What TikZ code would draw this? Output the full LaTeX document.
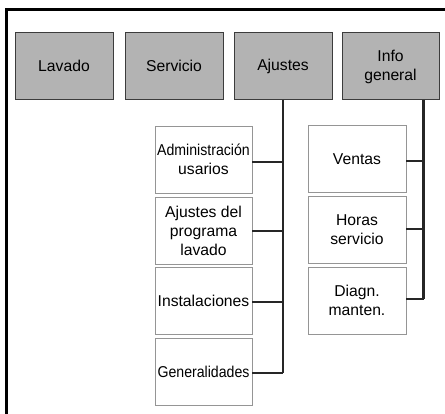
\documentclass[tikz,border=0pt]{standalone}
\usepackage{fontspec}
\setmainfont{Liberation Sans}
\usepackage{graphicx}
\definecolor{topfill}{HTML}{B3B3B3}
\definecolor{topdraw}{HTML}{3C3C3C}
\definecolor{subdraw}{HTML}{959595}
\begin{document}
\begin{tikzpicture}[x=1pt,y=-1pt,
  topbox/.style={draw=topdraw,fill=topfill,line width=1pt,minimum width=98pt,minimum height=67pt,inner sep=0pt,align=center,font=\fontsize{15.7}{19}\selectfont},
  subbox/.style={draw=subdraw,fill=white,line width=0.8pt,minimum width=97pt,minimum height=67pt,inner sep=0pt,align=center,font=\fontsize{15.7}{19}\selectfont},
  conn/.style={line width=2.3pt,black!85},
  frame/.style={line width=3pt,black}]
\useasboundingbox (0,0) rectangle (445,414);
% outer frame
\coordinate (fbl) at (6.2,414);
\coordinate (ftl) at (6.2,9.8);
\coordinate (ftr) at (445,9.8);
\draw[frame] (fbl) -- (ftl) -- (ftr);
% top row
\node[topbox] (lav) at (64,66) {Lavado};
\node[topbox] (serv) at (174,66) {Servicio};
\node[topbox] (aj) at (283,66) {Ajustes};
\node[topbox,minimum width=97pt] (info) at (390.5,66.5) {Info\\general};
% Ajustes children
\node[subbox] (adm) at (203.5,159.5) {\scalebox{0.9}[1]{Administración}\\usarios};
\node[subbox] (prog) at (203.5,230.5) {Ajustes del\\programa\\lavado};
\node[subbox] (inst) at (203.5,301) {Instalaciones};
\node[subbox] (gen) at (203.5,372) {\scalebox{0.9}[1]{Generalidades}};
% Info children
\node[subbox,minimum width=98pt] (vent) at (357,159) {Ventas};
\node[subbox,minimum width=98pt] (hor) at (357,229.5) {Horas\\servicio};
\node[subbox,minimum width=98pt] (diag) at (357,300.5) {Diagn.\\manten.};
% connectors Ajustes
\coordinate (ajend) at (283,373);
\draw[conn] (aj.south) -- (ajend);
\draw[conn] (adm.east |- 0,162) -- (aj.south |- 0,162);
\draw[conn] (prog.east |- 0,231) -- (aj.south |- 0,231);
\draw[conn] (inst.east |- 0,302) -- (aj.south |- 0,302);
\draw[conn] (gen.east |- ajend) -- (ajend);
% connectors Info
\coordinate (infotop) at (423.5,100);
\coordinate (infoend) at (423.5,299);
\draw[conn] (infotop) -- (infoend);
\draw[conn] (vent.east |- 0,161) -- (infotop |- 0,161);
\draw[conn] (hor.east |- 0,229) -- (infotop |- 0,229);
\draw[conn] (diag.east |- infoend) -- (infoend);
\end{tikzpicture}
\end{document}
